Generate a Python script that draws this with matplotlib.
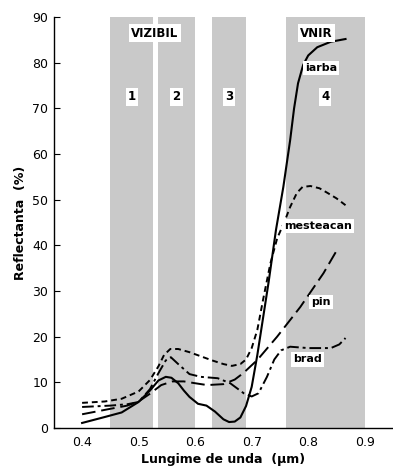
import matplotlib.pyplot as plt

# wavelength bands (um)
bands = [(0.45, 0.526), (0.534, 0.60), (0.63, 0.69), (0.76, 0.90)]
band_labels = ["1", "2", "3", "4"]

# iarba (solid)
iarba_x = [0.40, 0.44, 0.47, 0.50, 0.52, 0.535, 0.548, 0.558, 0.57, 0.58, 0.59, 0.605,
           0.62, 0.635, 0.65, 0.66, 0.67, 0.68, 0.69, 0.70, 0.71, 0.72, 0.73, 0.743,
           0.756, 0.768, 0.775, 0.782, 0.791, 0.80, 0.816, 0.84, 0.866]
iarba_y = [1.1, 2.4, 3.4, 5.7, 8.2, 10.4, 11.2, 11.0, 9.8, 8.2, 6.8, 5.3,
           4.9, 3.6, 1.9, 1.3, 1.4, 2.3, 4.8, 9.0, 16.0, 24.0, 32.0, 43.4,
           52.8, 63.0, 70.0, 75.5, 79.5, 81.6, 83.4, 84.6, 85.2]

# mesteacan (short dash)
mest_x = [0.40, 0.44, 0.47, 0.50, 0.52, 0.535, 0.545, 0.556, 0.57, 0.59, 0.61, 0.63,
          0.65, 0.665, 0.68, 0.69, 0.70, 0.71, 0.72, 0.733, 0.745, 0.759, 0.768,
          0.78, 0.79, 0.804, 0.82, 0.834, 0.85, 0.866]
mest_y = [5.5, 5.8, 6.4, 8.0, 10.5, 13.5, 16.0, 17.3, 17.3, 16.6, 15.7, 14.8,
          14.0, 13.6, 14.0, 15.0, 17.5, 21.5, 28.0, 36.0, 41.5, 45.5, 48.4,
          51.5, 52.8, 53.0, 52.5, 51.5, 50.3, 48.8]

# pin (long dash)
pin_x = [0.40, 0.45, 0.48, 0.50, 0.52, 0.54, 0.56, 0.58, 0.60, 0.621, 0.65,
         0.67, 0.685, 0.71, 0.745, 0.786, 0.827, 0.851]
pin_y = [3.0, 4.2, 4.9, 5.8, 7.5, 9.4, 10.2, 10.2, 9.8, 9.4, 9.6,
         10.6, 12.0, 14.9, 20.0, 26.5, 33.9, 39.0]

# brad (dash-dot)
brad_x = [0.40, 0.45, 0.48, 0.50, 0.52, 0.535, 0.548, 0.557, 0.57, 0.59, 0.61, 0.64,
          0.662, 0.686, 0.70, 0.712, 0.727, 0.74, 0.752, 0.768, 0.80, 0.84, 0.855, 0.866]
brad_y = [4.6, 4.9, 5.2, 5.7, 8.5, 12.0, 14.8, 15.5, 14.0, 11.8, 11.2, 10.9,
          9.8, 7.6, 6.9, 7.6, 11.2, 15.0, 17.0, 17.8, 17.5, 17.5, 18.3, 19.7]

fig = plt.figure(figsize=(3.93, 4.75), dpi=100)
ax = fig.add_axes([0.137, 0.099, 0.863, 0.865])

for (a, b), lab in zip(bands, band_labels):
    ax.axvspan(a, b, ymin=0, ymax=1, color="#c9c9c9", lw=0, zorder=0)
    ax.text((a + b) / 2, 72.5, lab, ha="center", va="center", fontsize=8.5,
            fontweight="bold", bbox=dict(fc="white", ec="none", pad=1.5), zorder=3)

box = dict(fc="white", ec="none", pad=1.5)
ax.text(0.529, 86.5, "VIZIBIL", ha="center", va="center", fontsize=8.5,
        fontweight="bold", bbox=box, zorder=3)
ax.text(0.814, 86.5, "VNIR", ha="center", va="center", fontsize=8.5,
        fontweight="bold", bbox=box, zorder=3)
ax.text(0.823, 78.8, "iarba", ha="center", va="center", fontsize=8,
        fontweight="bold", bbox=box, zorder=3)
ax.text(0.818, 44.2, "mesteacan", ha="center", va="center", fontsize=8,
        fontweight="bold", bbox=box, zorder=3)
ax.text(0.823, 27.6, "pin", ha="center", va="center", fontsize=8,
        fontweight="bold", bbox=box, zorder=3)
ax.text(0.798, 15.0, "brad", ha="center", va="center", fontsize=8,
        fontweight="bold", bbox=box, zorder=3)

ax.plot(iarba_x, iarba_y, color="black", lw=1.5, zorder=2)
ax.plot(mest_x, mest_y, color="black", lw=1.4, dashes=(3, 2), zorder=2)
ax.plot(pin_x, pin_y, color="black", lw=1.4, dashes=(7, 3), zorder=2)
ax.plot(brad_x, brad_y, color="black", lw=1.4, dashes=(6, 2, 1.5, 2), zorder=2)

ax.set_xlim(0.35, 0.95)
ax.set_ylim(0, 90)
ax.set_xticks([0.4, 0.5, 0.6, 0.7, 0.8, 0.9])
ax.set_xticklabels(["0.4", "0.5", "0.6", "0.7", "0.8", "0.9"])
ax.set_yticks(range(0, 91, 10))
ax.tick_params(axis="y", direction="in", length=4, labelsize=9, pad=4)
ax.tick_params(axis="x", length=0, labelsize=9, pad=6)
for s in ("top", "right"):
    ax.spines[s].set_visible(False)
ax.spines["left"].set_linewidth(1.0)
ax.spines["bottom"].set_linewidth(1.0)

ax.set_xlabel("Lungime de unda  (µm)", fontsize=9, fontweight="bold", labelpad=3)
ax.set_ylabel("Reflectanta  (%)", fontsize=9, fontweight="bold", labelpad=4)

fig.savefig("out.png", dpi=100)
